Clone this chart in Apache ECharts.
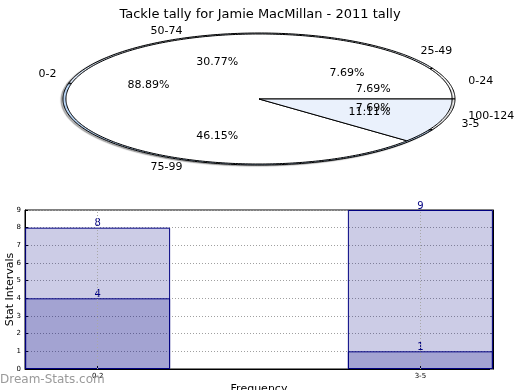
<!DOCTYPE html>
<html><head><meta charset="utf-8">
<script src="https://cdn.jsdelivr.net/npm/echarts@6/dist/echarts.min.js"></script>
<style>html,body{margin:0;padding:0;background:#fff}#c{width:520px;height:390px}</style>
</head><body><div id="c"></div>
<script>
// ---- data ----
const titleText = 'Tackle tally for Jamie MacMillan - 2011 tally';
const pie1Labels = ['0-24', '25-49', '50-74', '75-99', '100-124'];
const pie1Values = [1, 1, 4, 6, 1];
const pie2Labels = ['0-2', '3-5'];
const pie2Values = [8, 1];
const barCats = ['0-2', '3-5'];
const barBack = [8, 9];
const barFront = [4, 1];
const yTicks = [0, 1, 2, 3, 4, 5, 6, 7, 8, 9];

// ---- styles ----
const FONT = 'DejaVu Sans';
const pie1Colors = ['#ffffff', '#e8f0fb', '#dde9f9', '#b9d5f5', '#ffffff'];
const pie2Colors = ['#ffffff', '#eaf1fc'];
const PIE = { cx: 259, cy: 99, rx: 196, ry: 66 };

function makePie(labels, values, colors, scale, shadow) {
  const total = values.reduce((a, b) => a + b, 0);
  return {
    type: 'custom',
    coordinateSystem: 'none',
    silent: true,
    data: values.map((v, i) => ({ name: labels[i], value: [i, v] })),
    renderItem(params, api) {
      const i = api.value(0);
      const v = api.value(1);
      let before = 0;
      for (let k = 0; k < i; k++) before += values[k];
      const a0 = before / total * 2 * Math.PI;
      const a1 = (before + v) / total * 2 * Math.PI;
      const rx = PIE.rx * scale, ry = PIE.ry * scale;
      const pts = [[PIE.cx, PIE.cy]];
      const n = Math.max(2, Math.ceil((a1 - a0) / (Math.PI / 180)));
      for (let s = 0; s <= n; s++) {
        const t = a0 + (a1 - a0) * s / n;
        pts.push([PIE.cx + rx * Math.cos(t), PIE.cy - ry * Math.sin(t)]);
      }
      const mid = (a0 + a1) / 2;
      const lx = PIE.cx + 1.1 * PIE.rx * Math.cos(mid);
      const ly = PIE.cy - 1.1 * PIE.ry * Math.sin(mid);
      const px = PIE.cx + 0.6 * PIE.rx * Math.cos(mid);
      const py = PIE.cy - 0.6 * PIE.ry * Math.sin(mid);
      const polyStyle = { fill: colors[i], stroke: '#000', lineWidth: 1 };
      if (shadow) {
        polyStyle.shadowColor = 'rgba(0,0,0,0.3)';
        polyStyle.shadowOffsetX = -2;
        polyStyle.shadowOffsetY = 1;
        polyStyle.shadowBlur = 1;
      }
      return {
        type: 'group',
        children: [
          { type: 'polygon', shape: { points: pts }, style: polyStyle, z2: 1 },
          { type: 'text', x: lx, y: ly, z2: 100,
            style: { text: labels[i], font: '11px "' + FONT + '"', fill: '#000',
                     align: Math.cos(mid) > 0 ? 'left' : 'right', verticalAlign: 'middle' } },
          { type: 'text', x: px, y: py, z2: 100,
            style: { text: (v / total * 100).toFixed(2) + '%', font: '11px "' + FONT + '"', fill: '#000',
                     align: 'center', verticalAlign: 'middle' } }
        ]
      };
    }
  };
}

const chart = echarts.init(document.getElementById('c'), null, { renderer: 'canvas' });
const barStyle = { color: 'rgba(0,0,128,0.2)', borderColor: '#000080', borderWidth: 1 };
const barLabel = { show: true, position: 'top', distance: -1, color: '#000080', fontSize: 10, fontFamily: FONT };
const gridLine = { type: [1, 2], color: '#a0a0a0', width: 1, opacity: 1 };

chart.setOption({
  animation: false,
  backgroundColor: '#fff',
  title: { text: titleText, left: 'center', top: 3,
           textStyle: { fontSize: 13, fontWeight: 'normal', fontFamily: FONT, color: '#000' } },
  graphic: [
    { type: 'text', left: 0, top: 374, z: 100,
      style: { text: 'Dream-Stats.com', font: '12px "' + FONT + '"', fill: '#9a9a9a' } }
  ],
  grid: { left: 25, right: 27, top: 210, bottom: 21, show: true, borderColor: '#000', borderWidth: 1,
          containLabel: false, outerBoundsMode: 'none' },
  xAxis: {
    type: 'value', min: -0.225, max: 1.225,
    axisLine: { show: true, onZero: false, lineStyle: { color: '#000' } },
    axisTick: { show: true, inside: true, length: 3, customValues: [0, 1], lineStyle: { color: '#000' } },
    axisLabel: { customValues: [0, 1], formatter: v => barCats[Math.round(v)] || '', fontSize: 7, color: '#000', margin: 4, fontFamily: FONT },
    splitLine: { show: false },
    name: 'Frequency', nameLocation: 'middle', nameGap: 15, nameMoveOverlap: false,
    nameTextStyle: { fontSize: 11, fontFamily: FONT, color: '#000' }
  },
  yAxis: [
    {
      type: 'value', min: 0, max: 9, interval: 1, position: 'left',
      axisLine: { show: true, onZero: false, lineStyle: { color: '#000' } },
      axisTick: { show: true, inside: true, length: 3, lineStyle: { color: '#000' } },
      axisLabel: { fontSize: 7, color: '#000', margin: 4, fontFamily: FONT,
                   formatter: v => yTicks.includes(v) ? String(v) : '' },
      splitLine: { show: true, lineStyle: gridLine },
      name: 'Stat Intervals', nameLocation: 'middle', nameGap: 9, nameRotate: 90, nameMoveOverlap: false,
      nameTextStyle: { fontSize: 11, fontFamily: FONT, color: '#000' }
    },
    {
      type: 'value', min: 0, max: 9, interval: 1, position: 'right',
      axisLine: { show: true, onZero: false, lineStyle: { color: '#000' } },
      axisTick: { show: true, inside: true, length: 3, lineStyle: { color: '#888' } },
      axisLabel: { show: false }, splitLine: { show: false }
    }
  ],
  series: [
    makePie(pie1Labels, pie1Values, pie1Colors, 1.0, true),
    makePie(pie2Labels, pie2Values, pie2Colors, 0.985, false),
    {
      type: 'bar', barWidth: 145, barGap: '-100%',
      data: barCats.map((c, i) => [i, barBack[i]]),
      itemStyle: barStyle, label: barLabel,
      markLine: {
        silent: true, symbol: ['none', 'none'], label: { show: false },
        lineStyle: { type: [1, 2], color: '#a8a8a8', width: 1, opacity: 1 },
        emphasis: { disabled: true },
        data: barCats.map((c, i) => ({ xAxis: i }))
      }
    },
    {
      type: 'bar', barWidth: 145, barGap: '-100%',
      data: barCats.map((c, i) => [i, barFront[i]]),
      itemStyle: barStyle, label: barLabel
    }
  ]
});
</script>
</body></html>
